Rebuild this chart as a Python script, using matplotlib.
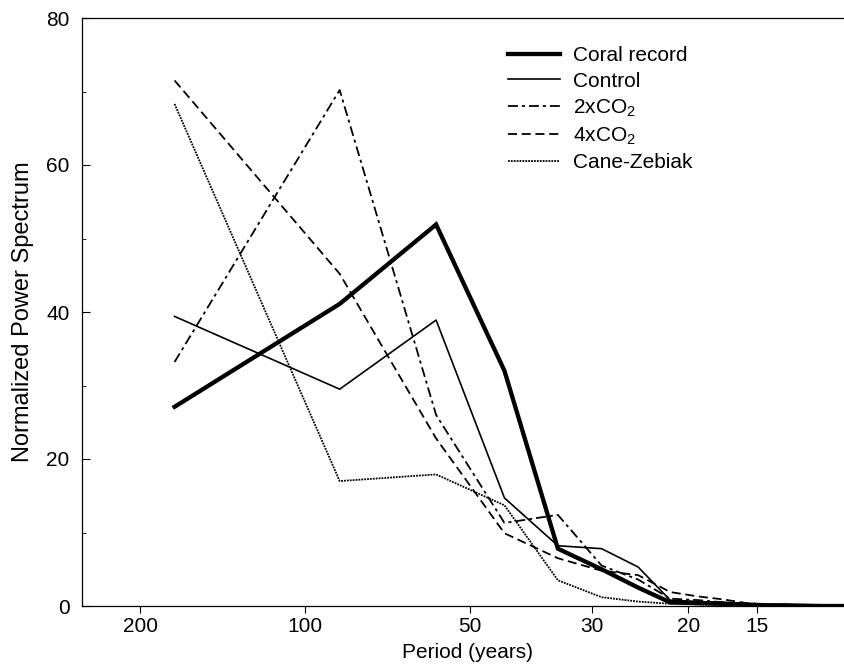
import numpy as np
import matplotlib
matplotlib.use("Agg")
import matplotlib.pyplot as plt
from matplotlib.ticker import FixedLocator, NullLocator, MultipleLocator

# Periods of the spectral estimates (years)
periods = [173, 86.5, 57.7, 43.3, 34.6, 28.8, 24.7, 21.6, 19.2,
           17.3, 15.7, 14.4, 13.3, 12.4, 11.5, 10.8, 10.2, 9.6]

# Normalized power for each series
coral = [27.1, 41.1, 51.9, 32.0, 7.8, 5.0, 2.5, 0.5, 0.4,
         0.3, 0.2, 0.1, 0.1, 0.05, 0.0, 0.0, 0.0, 0.0]
control = [39.4, 29.5, 38.9, 14.7, 8.2, 7.8, 5.3, 0.8, 0.6,
           0.5, 0.3, 0.2, 0.1, 0.1, 0.0, 0.0, 0.0, 0.0]
co2_2x = [33.2, 70.2, 26.0, 11.3, 12.4, 5.5, 3.6, 1.0, 0.8,
          0.5, 0.3, 0.2, 0.1, 0.05, 0.0, 0.0, 0.0, 0.0]
co2_4x = [71.5, 45.2, 22.8, 9.9, 6.5, 4.8, 4.2, 1.9, 1.3,
          0.9, 0.4, 0.2, 0.1, 0.05, 0.0, 0.0, 0.0, 0.0]
cane_zebiak = [68.3, 17.0, 17.9, 13.7, 3.5, 1.2, 0.6, 0.3, 0.2,
               0.1, 0.1, 0.0, 0.0, 0.0, 0.0, 0.0, 0.0, 0.0]

xticks = [200, 100, 50, 30, 20, 15]
yticks = [0, 20, 40, 60, 80]

plt.rcParams['font.family'] = ['Liberation Sans', 'DejaVu Sans']
plt.rcParams['mathtext.fontset'] = 'custom'
plt.rcParams['mathtext.rm'] = 'Liberation Sans'
plt.rcParams['mathtext.it'] = 'Liberation Sans'
FS = 15

fig = plt.figure(figsize=(8.44, 6.66), dpi=100)
ax = fig.add_axes([82 / 844, 1 - 606 / 666, (853.5 - 82) / 844, (606 - 18) / 666])

ax.plot(periods, coral, color='black', lw=3.1, solid_joinstyle='miter',
        label='Coral record')
ax.plot(periods, control, color='black', lw=1.2, label='Control')
ax.plot(periods, co2_2x, color='black', lw=1.3,
        linestyle=(0, (5.5, 2.2, 1.7, 2.2)), label='2xCO$_2$')
ax.plot(periods, co2_4x, color='black', lw=1.3,
        linestyle=(0, (5.0, 2.6)), label='4xCO$_2$')
ax.plot(periods, cane_zebiak, color='black', lw=1.3,
        linestyle=(0, (1.0, 0.6)), label='Cane-Zebiak')

ax.set_xscale('log')
ax.set_xlim(255.2, 10.0)
ax.set_ylim(0, 80)

ax.xaxis.set_major_locator(FixedLocator(xticks))
ax.xaxis.set_minor_locator(NullLocator())
ax.set_xticklabels([str(t) for t in xticks])
ax.yaxis.set_major_locator(FixedLocator(yticks))
ax.yaxis.set_minor_locator(MultipleLocator(10))

ax.tick_params(axis='x', which='major', direction='out', length=5, width=0.8,
               pad=3, labelsize=FS)
ax.tick_params(axis='y', which='major', direction='in', length=6, width=0.8,
               pad=9, labelsize=FS)
ax.tick_params(axis='y', which='minor', direction='in', length=3, width=0.6)

ax.spines['right'].set_visible(False)
for s in ['left', 'bottom', 'top']:
    ax.spines[s].set_linewidth(0.9)

ax.set_xlabel('Period (years)', fontsize=FS, labelpad=5)
ax.set_ylabel('Normalized Power Spectrum', fontsize=17)
ax.yaxis.set_label_coords(-48 / 771.5, 0.5)

ax.legend(loc='upper left', bbox_to_anchor=(508 / 844, 1 - 46 / 666),
          bbox_transform=fig.transFigure, frameon=False, fontsize=FS,
          handlelength=2.5, handletextpad=0.6, labelspacing=0.32,
          borderpad=0, borderaxespad=0)

fig.savefig('out.png', dpi=100)
